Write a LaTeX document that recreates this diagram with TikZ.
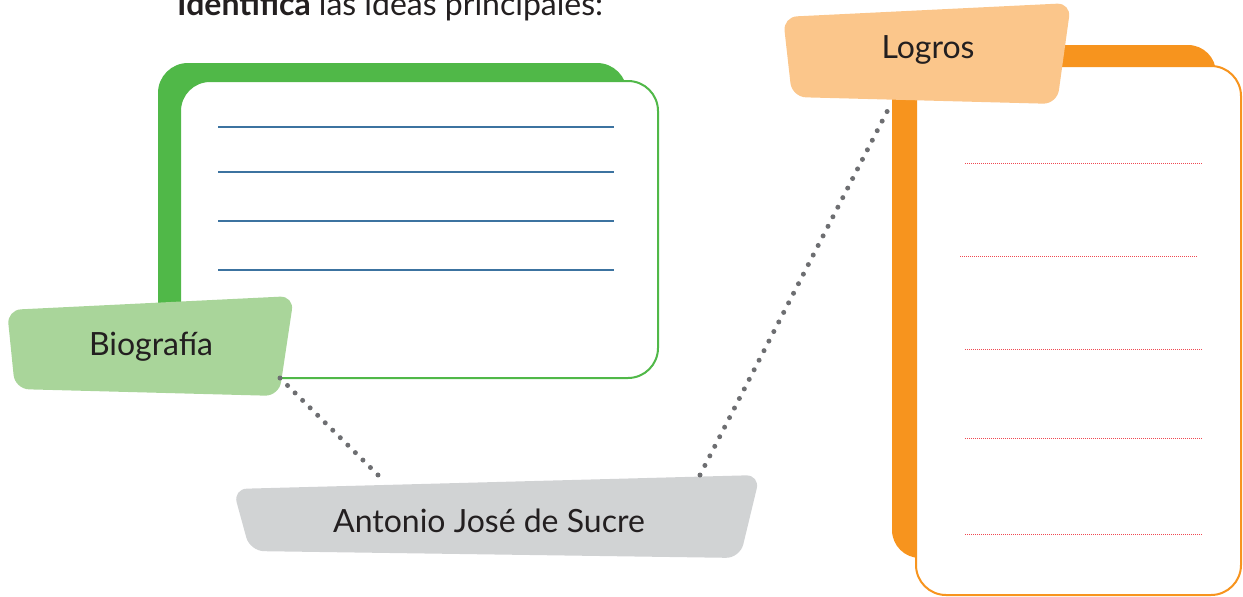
\documentclass[tikz,border=0pt]{standalone}
\usepackage{fontspec}
\setmainfont{Lato}
\definecolor{grn}{RGB}{80,184,72}
\definecolor{lgrn}{RGB}{169,213,154}
\definecolor{org}{RGB}{247,148,30}
\definecolor{lorg}{RGB}{251,198,139}
\definecolor{gtag}{RGB}{209,211,212}
\definecolor{dotc}{RGB}{109,110,113}
\definecolor{bline}{RGB}{60,115,160}
\definecolor{rline}{RGB}{237,40,50}
\definecolor{txt}{RGB}{35,31,32}
\begin{document}
\begin{tikzpicture}[x=1pt,y=-1pt,
  lbl/.style={text=txt,font=\fontsize{32}{38}\selectfont,inner sep=0pt},
  dotline/.style={dotc,line width=5pt,line cap=round},
  bluel/.style={bline,line width=1.4pt},
  redl/.style={rline!85,line width=0.9pt,dash pattern=on 1pt off 1pt}]
\useasboundingbox (0,0) rectangle (1243,597);
% title
\node[lbl,anchor=base west] (title) at (177,16) {\textbf{Identifica} las ideas principales:};
% green card
\fill[grn,rounded corners=30pt] (158,63) rectangle (627,360);
\draw[grn,fill=white,line width=2pt,rounded corners=30pt] (180,81) rectangle (658,378);
\foreach \y in {127,172,221,270} \draw[bluel] (218,\y) -- (614,\y);
% orange card
\fill[org,rounded corners=28pt] (892,45) rectangle (1216,558);
\draw[org,fill=white,line width=2pt,rounded corners=30pt] (916,66) rectangle (1241,595);
\draw[redl] (965,163) -- (1202,163);
\draw[redl] (960,256) -- (1197,256);
\draw[redl] (965,349) -- (1202,349);
\draw[redl] (965,438) -- (1202,438);
\draw[redl] (965,534) -- (1202,534);
% tags
\fill[lgrn,rounded corners=14pt] (7,310) -- (294,296) -- (279,396) -- (15,389) -- cycle;
\node[lbl] (bio) at (151,347) {Biografía};
\fill[lorg,rounded corners=14pt] (783,17) -- (1071,3) -- (1057,104) -- (792,97) -- cycle;
\node[lbl] (logros) at (928,50) {Logros};
\fill[gtag,rounded corners=14pt] (233,489) -- (760,475) -- (740,558) -- (250,551) -- cycle;
\node[lbl] (sucre) at (489,521) {Antonio José de Sucre};
% connectors
\coordinate (bioEnd) at (280,378);
\coordinate (sucreL) at (378,475);
\coordinate (sucreR) at (700,475);
\coordinate (logEnd) at (892,102);
\draw[dotline,dash pattern=on 0pt off 10.605pt] (bioEnd) -- (sucreL);
\draw[dotline,dash pattern=on 0pt off 10.757pt] (sucreR) -- (logEnd);
\end{tikzpicture}
\end{document}
